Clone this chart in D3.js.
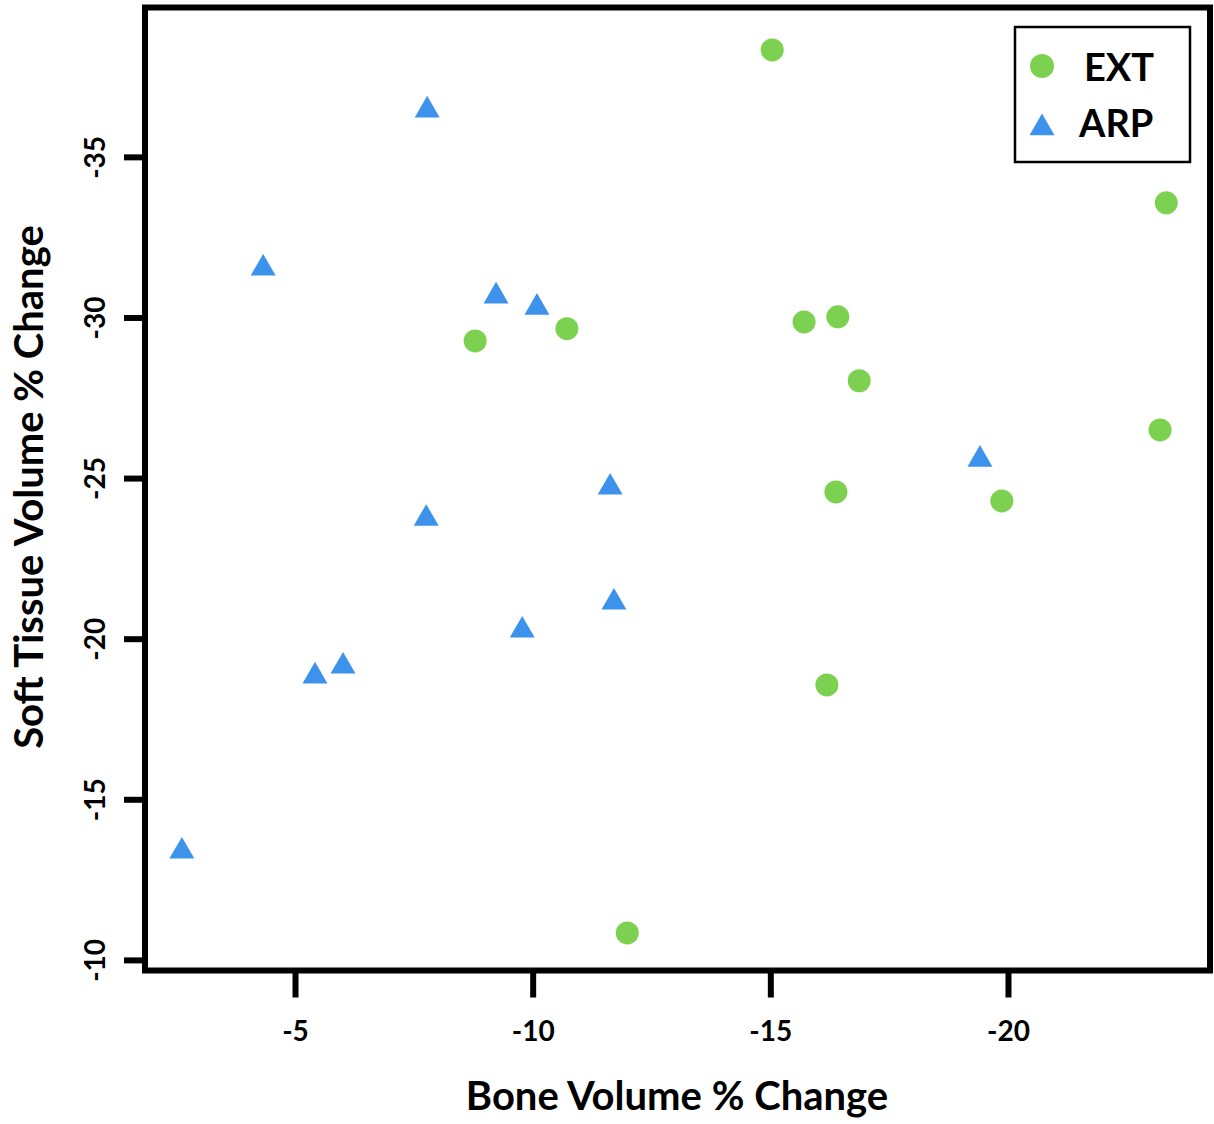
<!DOCTYPE html>
<html>
<head>
<meta charset="utf-8">
<script src="https://cdn.jsdelivr.net/npm/d3@7"></script>
<style>
  body { margin: 0; background: #fff; }
  text { font-family: Lato, "Open Sans", sans-serif; font-weight: bold; }
</style>
</head>
<body>
<svg width="1214" height="1124"></svg>
<script>
// EXT group (circles)
const extBone = [-15.04, -23.33, -8.79, -10.72, -15.71, -16.42, -16.87, -23.2, -16.38, -19.87, -16.19, -11.99];
const extSoft = [-38.33, -33.57, -29.27, -29.65, -29.86, -30.02, -28.03, -26.5, -24.57, -24.29, -18.56, -10.84];

// ARP group (triangles)
const arpBone = [-7.78, -4.33, -9.23, -10.09, -11.63, -7.76, -19.41, -11.71, -9.78, -6.01, -5.42, -2.62];
const arpSoft = [-36.45, -31.53, -30.66, -30.31, -24.71, -23.74, -25.58, -21.13, -20.26, -19.14, -18.83, -13.38];

const xTicks = [-5, -10, -15, -20];
const yTicks = [-10, -15, -20, -25, -30, -35];
const seriesNames = ["EXT", "ARP"];
const seriesColors = ["#7cd250", "#3d93eb"];

const svg = d3.select("svg");
const plotLeft = 145, plotRight = 1210, plotTop = 7.5, plotBottom = 970.5;

// axes run "backwards": more negative to the right / up
const x = d3.scaleLinear().domain([-1.844, -24.25]).range([plotLeft, plotRight]);
const y = d3.scaleLinear().domain([-9.67, -39.65]).range([plotBottom, plotTop]);

// plain hyphen minus like the original, not the unicode one d3.format gives
const fmt = d => String(d);

// x axis
const xAxis = svg.append("g")
    .attr("transform", `translate(0,${plotBottom})`)
    .call(d3.axisBottom(x).tickValues(xTicks).tickSize(27).tickFormat(fmt));
xAxis.select(".domain").remove();
xAxis.selectAll(".tick line").attr("stroke", "#000").attr("stroke-width", 6);
xAxis.selectAll(".tick text")
    .attr("y", 70)
    .attr("dy", 0)
    .attr("fill", "#000")
    .style("font-size", "28px");

// y axis
const yAxis = svg.append("g")
    .attr("transform", `translate(${plotLeft},0)`)
    .call(d3.axisLeft(y).tickValues(yTicks).tickSize(21).tickFormat(fmt));
yAxis.select(".domain").remove();
yAxis.selectAll(".tick line").attr("stroke", "#000").attr("stroke-width", 6);
yAxis.selectAll(".tick text")
    .attr("x", null)
    .attr("dy", 0)
    .attr("text-anchor", "middle")
    .attr("transform", "translate(-40,0) rotate(-90)")
    .attr("fill", "#000")
    .style("font-size", "28px");

// frame
svg.append("rect")
    .attr("x", plotLeft)
    .attr("y", plotTop)
    .attr("width", plotRight - plotLeft)
    .attr("height", plotBottom - plotTop)
    .attr("fill", "none")
    .attr("stroke", "#000")
    .attr("stroke-width", 6);

// points
svg.append("g").selectAll("circle")
    .data(d3.zip(extBone, extSoft))
    .enter()
    .append("circle")
    .attr("cx", d => x(d[0]))
    .attr("cy", d => y(d[1]))
    .attr("r", 11.5)
    .attr("fill", seriesColors[0]);

const tri = d3.symbol().type(d3.symbolTriangle).size(270);
svg.append("g").selectAll("path")
    .data(d3.zip(arpBone, arpSoft))
    .enter()
    .append("path")
    .attr("d", tri)
    .attr("transform", d => `translate(${x(d[0])},${y(d[1])})`)
    .attr("fill", seriesColors[1]);

// axis titles
svg.append("text")
    .attr("x", 677)
    .attr("y", 1110)
    .attr("text-anchor", "middle")
    .style("font-size", "40px")
    .text("Bone Volume % Change");

svg.append("text")
    .attr("transform", "translate(43,487) rotate(-90)")
    .attr("text-anchor", "middle")
    .style("font-size", "40px")
    .text("Soft Tissue Volume % Change");

// legend
const legend = svg.append("g");
legend.append("rect")
    .attr("x", 1015)
    .attr("y", 27)
    .attr("width", 175)
    .attr("height", 135)
    .attr("fill", "#fff")
    .attr("stroke", "#000")
    .attr("stroke-width", 2.5);
legend.append("circle")
    .attr("cx", 1042)
    .attr("cy", 66)
    .attr("r", 12)
    .attr("fill", seriesColors[0]);
legend.append("path")
    .attr("d", tri)
    .attr("transform", "translate(1042,128)")
    .attr("fill", seriesColors[1]);
legend.append("text")
    .attr("x", 1084)
    .attr("y", 81)
    .style("font-size", "38px")
    .text(seriesNames[0]);
legend.append("text")
    .attr("x", 1079)
    .attr("y", 137)
    .style("font-size", "38px")
    .text(seriesNames[1]);
</script>
</body>
</html>
